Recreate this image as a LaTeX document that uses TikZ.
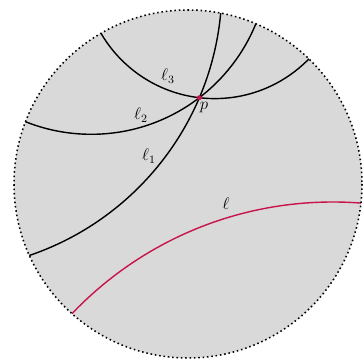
\documentclass[tikz,border=0pt]{standalone}
\usepackage{amsmath,amssymb}
\usepackage{xcolor}
\usepackage{tikz}
\usetikzlibrary{calc}
\definecolor{geored}{RGB}{200,20,75}

\begin{document}
\begin{tikzpicture}[
  x=0.025cm, y=-0.025cm,
  disk/.style={fill=black!15},
  rim/.style={dotted, line width=1.1pt},
  geod/.style={line width=1pt, black},
  para/.style={line width=1pt, geored},
  lab/.style={font=\large, inner sep=1pt}
]
\useasboundingbox (0,0) rectangle (364,360);
\coordinate (O) at (188,184);
\fill[disk] (O) circle[radius=174];

% geodesics, cut off at the rim
\begin{scope}
  \clip (O) circle[radius=174];
  \draw[geod] (-61.7,-13.2) circle[radius=283.6]; % l_1
  \draw[geod] (91.3,-43.4) circle[radius=177.7];  % l_2
  \draw[geod] (214.7,-33.0) circle[radius=131.6]; % l_3
  \draw[para] (332.9,562.7) circle[radius=360.7]; % l
\end{scope}
\draw[rim] (O) circle[radius=174];

\coordinate (p) at (199.3,97.7);
\fill[geored] (p) circle[radius=2.5];

\node[lab] (plab) at (204,108) {$p$};
\node[lab] (l1) at (149,156) {$\ell_1$};
\node[lab] (l2) at (141,115) {$\ell_2$};
\node[lab] (l3) at (168,76) {$\ell_3$};
\node[lab] (l) at (226,204) {$\ell$};
\end{tikzpicture}
\end{document}
